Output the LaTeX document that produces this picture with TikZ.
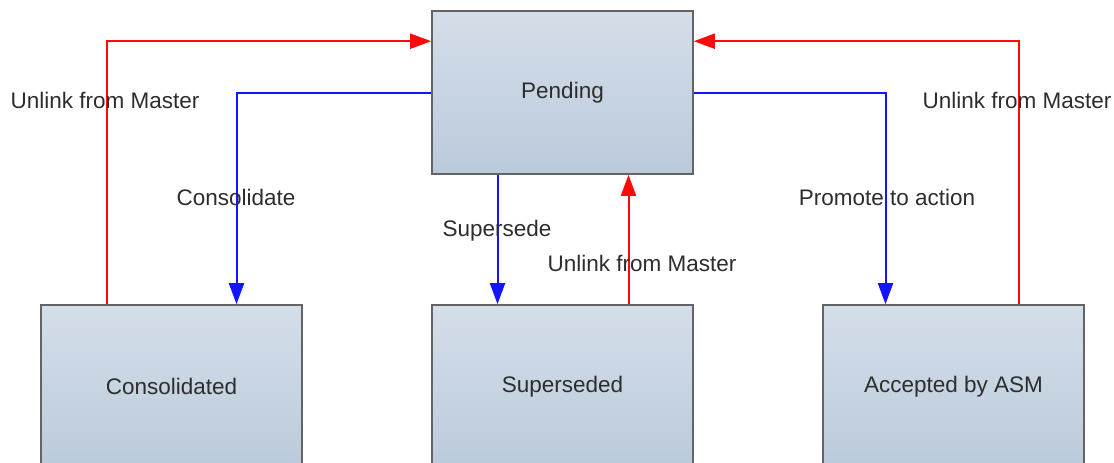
\documentclass[tikz,border=0pt]{standalone}
\usepackage{fontspec}
\setmainfont{Liberation Sans}
\usetikzlibrary{arrows.meta}
\definecolor{boxtop}{RGB}{212,222,233}
\definecolor{boxbot}{RGB}{187,202,219}
\definecolor{boxline}{RGB}{100,100,100}
\definecolor{txt}{RGB}{45,45,45}
\definecolor{mblue}{RGB}{20,20,255}
\definecolor{mred}{RGB}{255,10,10}
\tikzset{state/.style = {draw=boxline, line width=1.6pt, top color=boxtop, bottom color=boxbot,
                         minimum width=261pt, minimum height=163pt, inner sep=0,
                         text=txt, font=\fontsize{22.5}{27}\selectfont}}
\tikzset{lbl/.style = {text=txt, inner sep=0, font=\fontsize{22.5}{27}\selectfont}}
\tikzset{fwd/.style = {mblue, line width=2pt, -{Triangle[length=21pt,width=15pt]}}}
\tikzset{back/.style = {mred, line width=2pt, -{Triangle[length=21pt,width=15pt]}}}

\begin{document}
\begin{tikzpicture}[x=1pt, y=-1pt]
    \useasboundingbox (0, 0) rectangle (1114, 463);

    \node [state] (pend) at (562.5, 92.5) {Pending};
    \node [state] (cons) at (171.5, 386.5) {Consolidated};
    \node [state] (supd) at (562.5, 386.5) {Superseded};
    \node [state] (acc)  at (953.5, 386.5) {Accepted by ASM};

    % forward moves
    \draw [fwd] (pend.west) -| ([xshift=65pt]cons.north);
    \draw [fwd] ([xshift=-65pt]pend.south) -- ([xshift=-65pt]supd.north);
    \draw [fwd] (pend.east) -| ([xshift=-68pt]acc.north);

    % unlink moves
    \draw [back] ([xshift=-65pt]cons.north) |- ([yshift=-31pt]pend.north west);
    \draw [back] ([xshift=66pt]supd.north) -- ([xshift=66pt]pend.south);
    \draw [back] ([xshift=65pt]acc.north) |- ([yshift=-31pt]pend.north east);

    \node [lbl] (ulcons) at (105, 100) {Unlink from Master};
    \node [lbl] (lcons)  at (236, 197) {Consolidate};
    \node [lbl] (lsupd)  at (497, 231) {Supersede};
    \node [lbl] (ulsupd) at (642, 263) {Unlink from Master};
    \node [lbl] (lacc)   at (887, 197) {Promote to action};
    \node [lbl] (ulacc)  at (1017, 100) {Unlink from Master};
\end{tikzpicture}
\end{document}
